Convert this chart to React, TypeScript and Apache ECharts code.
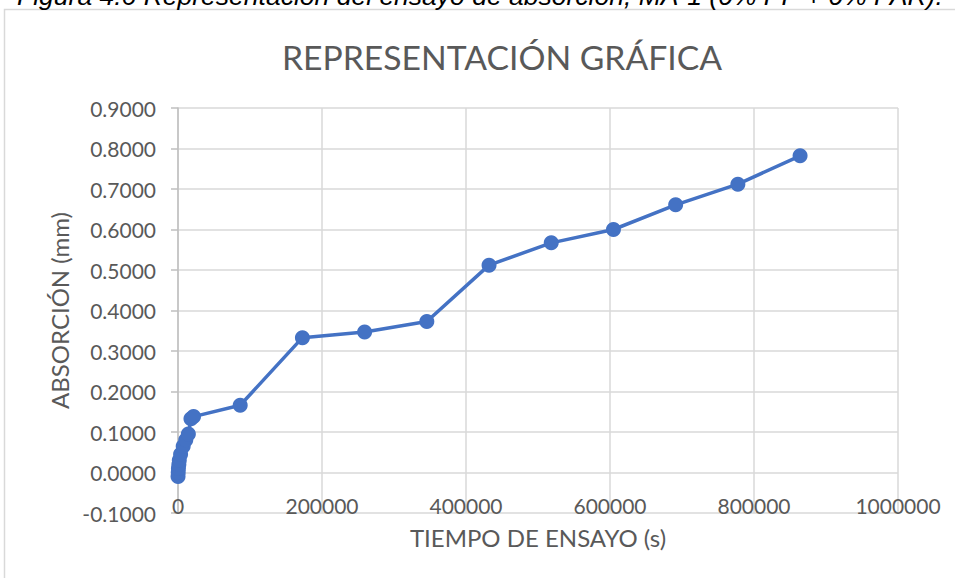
import React, { useEffect, useRef } from "react";
import * as echarts from "echarts";

const caption = "Figura 4.6 Representación del ensayo de absorción, MA-1 (0% PP + 0% PAR).";
const chartTitle = "REPRESENTACIÓN GRÁFICA";
const xName = "TIEMPO DE ENSAYO (s)";
const yName = "ABSORCIÓN (mm)";

const times = [60, 300, 600, 1200, 1800, 3600, 7200, 10800, 14400, 18000, 21600,
  86400, 172800, 259200, 345600, 432000, 518400, 604800, 691200, 777600, 864000];
const absorption = [-0.010, 0.000, 0.010, 0.020, 0.030, 0.045, 0.065, 0.080, 0.095, 0.133, 0.138,
  0.166, 0.333, 0.347, 0.373, 0.512, 0.567, 0.600, 0.661, 0.712, 0.782];

export default function App() {
  const ref = useRef<HTMLDivElement>(null);
  useEffect(() => {
    if (!ref.current) return;
    const chart = echarts.init(ref.current, null, { renderer: "svg" });
    const font = "Lato, 'Open Sans', sans-serif";
    chart.setOption({
      animation: false,
      backgroundColor: "#ffffff",
      grid: { left: 178, right: 57, top: 108, bottom: 65 },
      graphic: [
        {
          type: "rect",
          shape: { x: 4.5, y: 9.5, width: 1100, height: 800 },
          style: { fill: "none", stroke: "#d9d9d9", lineWidth: 1.5 },
          silent: true,
        },
        {
          type: "text",
          x: 17,
          y: -4,
          style: {
            text: caption,
            font: "italic 26.5px 'Liberation Sans', Arial, sans-serif",
            fill: "#000000",
            align: "left",
            verticalAlign: "middle",
          },
        },
        {
          type: "text",
          x: 502,
          y: 57,
          style: {
            text: chartTitle,
            font: "33.7px " + font,
            fill: "#595959",
            align: "center",
            verticalAlign: "middle",
          },
        },
      ],
      xAxis: {
        type: "value",
        min: 0,
        max: 1000000,
        interval: 200000,
        name: xName,
        nameLocation: "middle",
        nameGap: 12,
        nameTextStyle: { fontFamily: font, fontSize: 24, color: "#595959", verticalAlign: "top" },
        axisLine: { show: false, onZero: false },
        axisTick: { show: false },
        axisLabel: {
          fontFamily: font,
          fontSize: 21,
          color: "#595959",
          margin: -18,
          formatter: (v: number) => String(Math.round(v)),
        },
        splitLine: { show: true, lineStyle: { color: "#d9d9d9", width: 1.5 } },
      },
      yAxis: {
        type: "value",
        min: -0.1,
        max: 0.9,
        interval: 0.1,
        name: yName,
        nameLocation: "middle",
        nameGap: 106,
        nameTextStyle: { fontFamily: font, fontSize: 24, color: "#595959" },
        axisLine: { show: true, onZero: false, lineStyle: { color: "#bfbfbf", width: 1.5 } },
        axisTick: { show: true, length: 7, lineStyle: { color: "#bfbfbf", width: 1.5 } },
        axisLabel: {
          fontFamily: font,
          fontSize: 21,
          color: "#595959",
          margin: 22,
          formatter: (v: number) => (Math.abs(v) < 1e-9 ? "0.0000" : v.toFixed(4)),
        },
        splitLine: { show: true, lineStyle: { color: "#d9d9d9", width: 1.5 } },
      },
      series: [
        {
          type: "line",
          data: times.map((t, i) => [t, absorption[i]]),
          symbol: "circle",
          symbolSize: 15,
          itemStyle: { color: "#4472C4" },
          lineStyle: { color: "#4472C4", width: 3.5 },
        },
      ],
    });
    return () => chart.dispose();
  }, []);
  return (
    <div
      ref={ref}
      style={{ position: "fixed", left: 0, top: 0, width: 955, height: 578 }}
    />
  );
}
